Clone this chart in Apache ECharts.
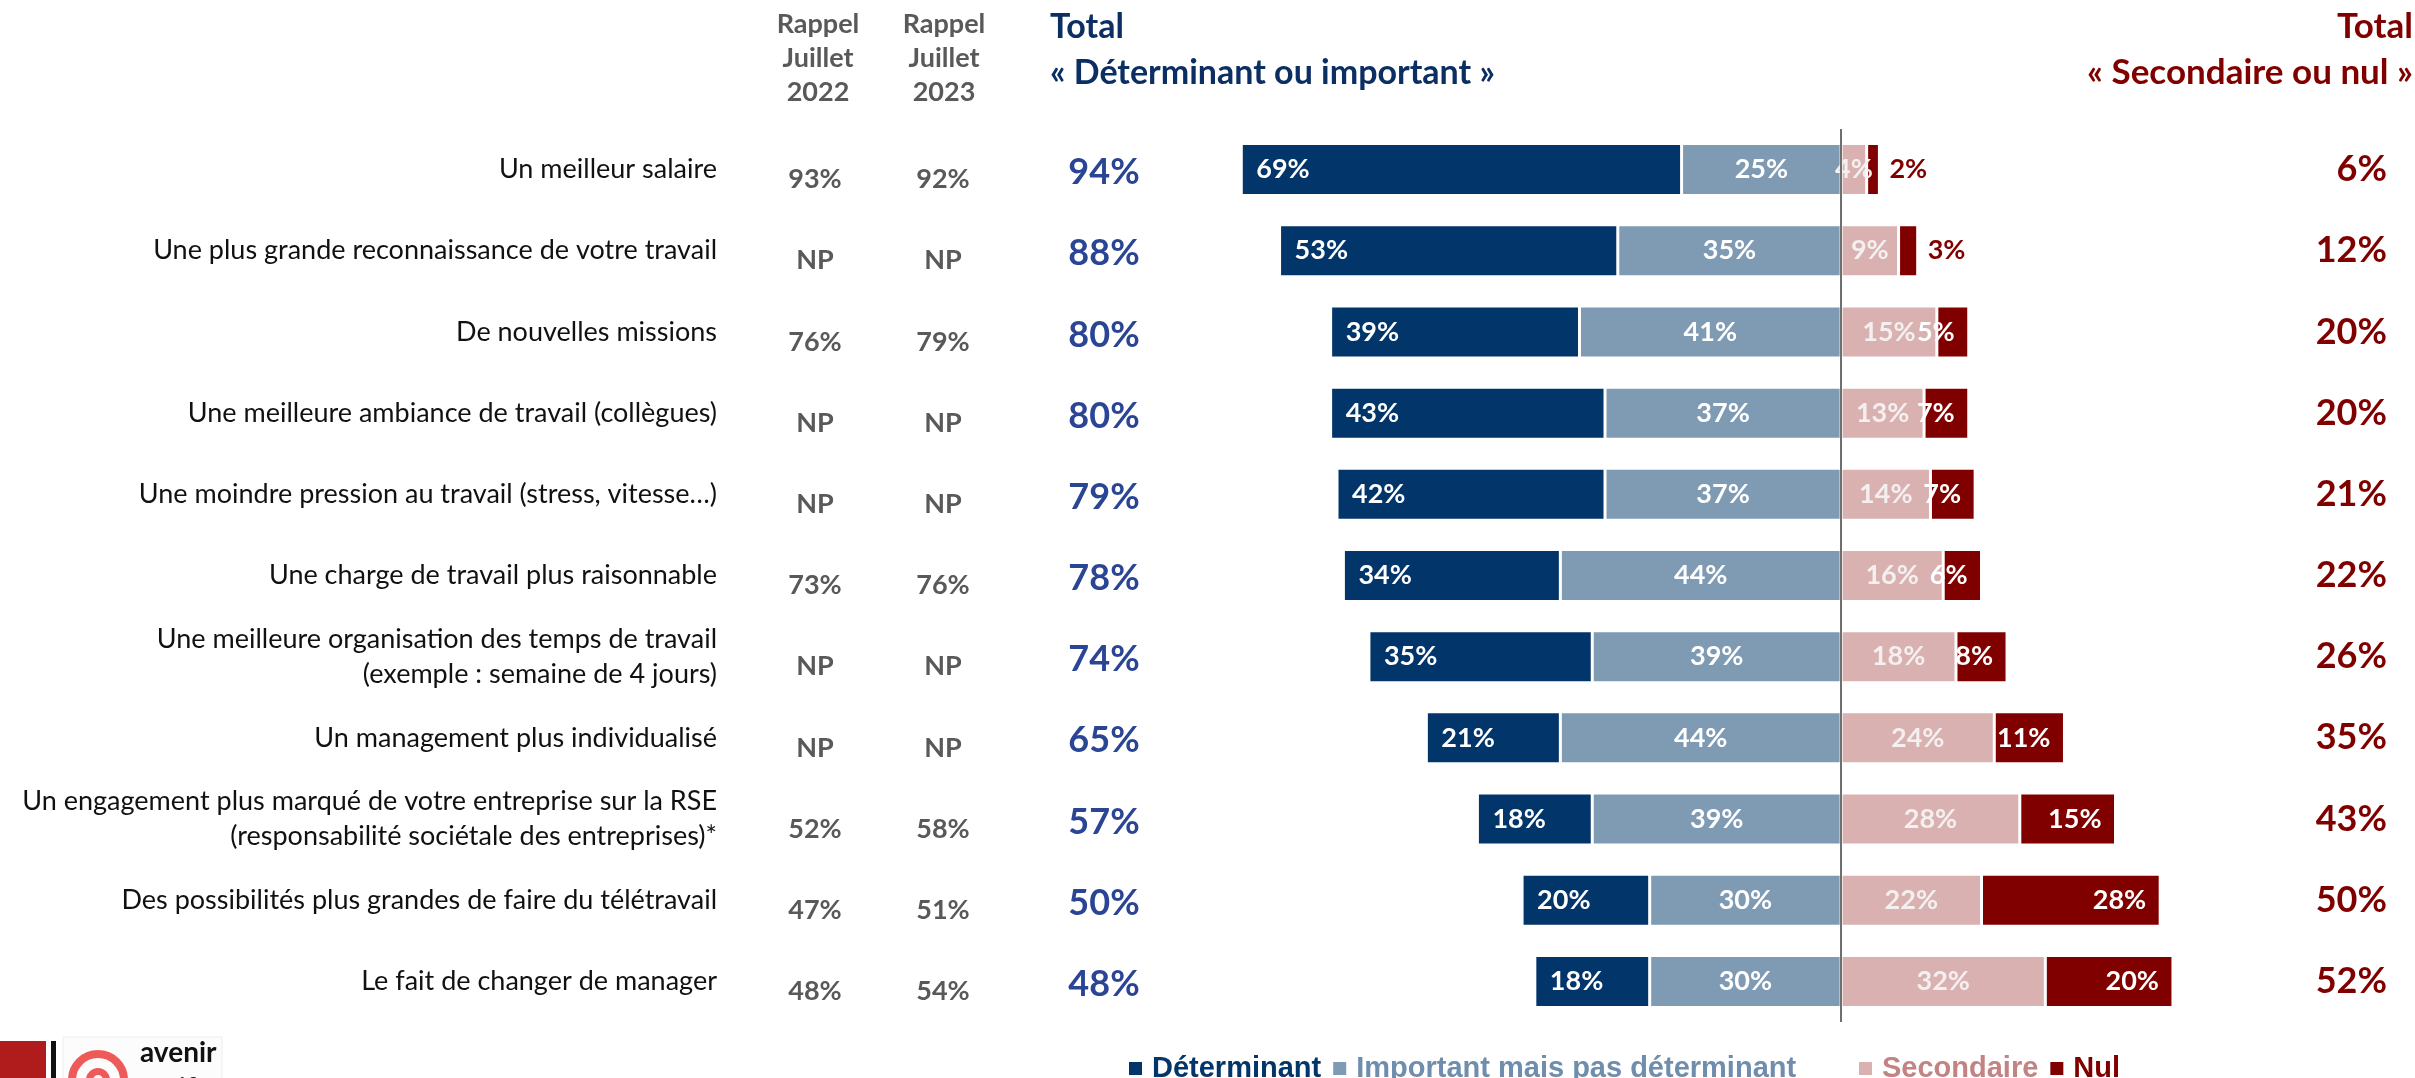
<!DOCTYPE html>
<html lang="fr">
<head>
  <meta charset="UTF-8" />
  <title>Leviers de motivation</title>
  <script src="https://cdn.jsdelivr.net/npm/echarts@6.0.0/dist/echarts.min.js"></script>
  <style>
    html, body { margin: 0; padding: 0; background: #fff; }
    #chart { width: 2415px; height: 1078px; }
  </style>
</head>
<body>
  <div id="chart"></div>
  <script>
    // Données
    const categories = [
      'Un meilleur salaire',
      'Une plus grande reconnaissance de votre travail',
      'De nouvelles missions',
      'Une meilleure ambiance de travail (collègues)',
      'Une moindre pression au travail (stress, vitesse…)',
      'Une charge de travail plus raisonnable',
      'Une meilleure organisation des temps de travail\n(exemple : semaine de 4 jours)',
      'Un management plus individualisé',
      'Un engagement plus marqué de votre entreprise sur la RSE\n(responsabilité sociétale des entreprises)*',
      'Des possibilités plus grandes de faire du télétravail',
      'Le fait de changer de manager'
    ];
    const determinant = [69, 53, 39, 43, 42, 34, 35, 21, 18, 20, 18];
    const important = [25, 35, 41, 37, 37, 44, 39, 44, 39, 30, 30];
    const secondaire = [4, 9, 15, 13, 14, 16, 18, 24, 28, 22, 32];
    const nul = [2, 3, 5, 7, 7, 6, 8, 11, 15, 28, 20];
    const rappel2022 = ['93%', 'NP', '76%', 'NP', 'NP', '73%', 'NP', 'NP', '52%', '47%', '48%'];
    const rappel2023 = ['92%', 'NP', '79%', 'NP', 'NP', '76%', 'NP', 'NP', '58%', '51%', '54%'];
    const totalImportant = ['94%', '88%', '80%', '80%', '79%', '78%', '74%', '65%', '57%', '50%', '48%'];
    const totalSecondaire = ['6%', '12%', '20%', '20%', '21%', '22%', '26%', '35%', '43%', '50%', '52%'];

    const FONT = 'Lato, "Open Sans", sans-serif';
    const C_DET = '#02356A';
    const C_IMP = '#7F9AB3';
    const C_SEC = '#D9B1B1';
    const C_NUL = '#800000';

    const chart = echarts.init(document.getElementById('chart'));

    const pct = p => Math.abs(p.value) + '%';
    const barLabel = {
      show: true,
      formatter: pct,
      color: '#fff',
      fontFamily: FONT,
      fontWeight: 'bold',
      fontSize: 27
    };

    function textAxis(data, opts) {
      return Object.assign({
        type: 'category',
        inverse: true,
        data: data,
        position: 'left',
        axisLine: { show: false, onZero: false },
        axisTick: { show: false },
        splitLine: { show: false }
      }, opts);
    }

    const option = {
      animation: false,
      grid: { left: 1203, right: 191, top: 129, bottom: 56, outerBoundsMode: 'none' },
      xAxis: { type: 'value', min: -100, max: 60, show: false },
      yAxis: [
        textAxis(categories, {
          axisLabel: { interval: 0, margin: 486, align: 'right', color: '#111', fontFamily: FONT, fontSize: 27, lineHeight: 35 }
        }),
        // valeurs « Rappel » décalées un peu vers le bas, comme sur l'original
        textAxis(rappel2022, {
          axisLabel: { interval: 0, margin: 388, align: 'center', verticalAlign: 'top', lineHeight: 20, color: '#595959', fontFamily: FONT, fontWeight: 'bold', fontSize: 27 }
        }),
        textAxis(rappel2023, {
          axisLabel: { interval: 0, margin: 260, align: 'center', verticalAlign: 'top', lineHeight: 20, color: '#595959', fontFamily: FONT, fontWeight: 'bold', fontSize: 27 }
        }),
        textAxis(totalImportant, {
          axisLabel: { interval: 0, margin: 99, align: 'center', verticalAlign: 'top', lineHeight: 6, color: '#2B4595', fontFamily: FONT, fontWeight: 'bold', fontSize: 36 }
        }),
        textAxis(totalSecondaire, {
          position: 'right',
          axisLabel: { interval: 0, margin: 163, align: 'right', color: C_NUL, fontFamily: FONT, fontWeight: 'bold', fontSize: 36 }
        })
      ],
      legend: [
        {
          left: 1122, top: 1049, itemGap: 10, itemWidth: 15, itemHeight: 15, icon: 'rect',
          selectedMode: false,
          textStyle: { fontFamily: '"Liberation Sans", Arial, sans-serif', fontWeight: 'bold', fontSize: 29, padding: [0, 0, 0, 4] },
          data: [
            { name: 'Déterminant', textStyle: { color: C_DET } },
            { name: 'Important mais pas déterminant', textStyle: { color: '#6F8DAD' } }
          ]
        },
        {
          left: 1852, top: 1049, itemGap: 10, itemWidth: 15, itemHeight: 15, icon: 'rect',
          selectedMode: false,
          textStyle: { fontFamily: '"Liberation Sans", Arial, sans-serif', fontWeight: 'bold', fontSize: 29, padding: [0, 0, 0, 4] },
          data: [
            { name: 'Secondaire', textStyle: { color: '#C38383' } },
            { name: 'Nul', textStyle: { color: C_NUL } }
          ]
        }
      ],
      series: [
        {
          name: 'Important mais pas déterminant',
          type: 'bar', stack: 'total', barWidth: 52,
          itemStyle: { color: C_IMP, borderColor: '#fff', borderWidth: 1.5 },
          label: Object.assign({}, barLabel, { position: 'inside' }),
          data: important.map(v => -v)
        },
        {
          name: 'Déterminant',
          type: 'bar', stack: 'total', barWidth: 52,
          itemStyle: { color: C_DET, borderColor: '#fff', borderWidth: 1.5 },
          label: Object.assign({}, barLabel, { position: 'insideLeft', distance: 15 }),
          data: determinant.map(v => -v)
        },
        {
          name: 'Secondaire',
          type: 'bar', stack: 'total', barWidth: 52,
          itemStyle: { color: C_SEC, borderColor: '#fff', borderWidth: 1.5 },
          label: Object.assign({}, barLabel, { position: 'inside', color: '#F4F0F0' }),
          data: secondaire,
          markLine: {
            silent: true,
            symbol: 'none',
            label: { show: false },
            lineStyle: { color: '#6F6F6F', width: 2, type: 'solid' },
            data: [{ xAxis: 0 }]
          }
        },
        {
          name: 'Nul',
          type: 'bar', stack: 'total', barWidth: 52,
          itemStyle: { color: C_NUL, borderColor: '#fff', borderWidth: 1.5 },
          label: Object.assign({}, barLabel, { position: 'insideRight', distance: 14 }),
          data: nul.map(v => v < 4
            ? { value: v, label: { position: 'right', distance: 10, color: C_NUL } }
            : v)
        }
      ],
      graphic: [
        {
          type: 'text', x: 818, y: 7,
          style: { text: 'Rappel\nJuillet\n2022', align: 'center', verticalAlign: 'top', lineHeight: 34, fill: '#595959', font: 'bold 27px ' + FONT }
        },
        {
          type: 'text', x: 944, y: 7,
          style: { text: 'Rappel\nJuillet\n2023', align: 'center', verticalAlign: 'top', lineHeight: 34, fill: '#595959', font: 'bold 27px ' + FONT }
        },
        {
          type: 'text', x: 1050, y: 4,
          style: { text: 'Total\n« Déterminant ou important »', align: 'left', verticalAlign: 'top', lineHeight: 46, fill: '#0B2F63', font: 'bold 34px ' + FONT }
        },
        {
          type: 'text', x: 2413, y: 4,
          style: { text: 'Total\n« Secondaire ou nul »', align: 'right', verticalAlign: 'top', lineHeight: 46, fill: C_NUL, font: 'bold 35px ' + FONT }
        },
        // logo
        { type: 'rect', shape: { x: 0, y: 1041, width: 46, height: 40 }, style: { fill: '#B01B1B' } },
        { type: 'rect', shape: { x: 51, y: 1041, width: 5, height: 40 }, style: { fill: '#111' } },
        { type: 'rect', shape: { x: 63, y: 1037, width: 159, height: 45 }, style: { fill: '#FCFCFC', stroke: '#EEEEEE', lineWidth: 1 } },
        { type: 'circle', shape: { cx: 98, cy: 1080, r: 26 }, style: { fill: 'none', stroke: '#EE5A57', lineWidth: 8 } },
        { type: 'circle', shape: { cx: 98, cy: 1080, r: 8.5 }, style: { fill: 'none', stroke: '#EE5A57', lineWidth: 7 } },
        { type: 'text', x: 140, y: 1067, style: { text: 'avenir', verticalAlign: 'bottom', fill: '#111', font: 'bold 28px ' + FONT } },
        { type: 'text', x: 140, y: 1075, style: { text: 'actif', verticalAlign: 'top', fill: '#111', font: 'bold 28px ' + FONT } }
      ]
    };

    chart.setOption(option);
    window.addEventListener('resize', () => chart.resize());
  </script>
</body>
</html>
